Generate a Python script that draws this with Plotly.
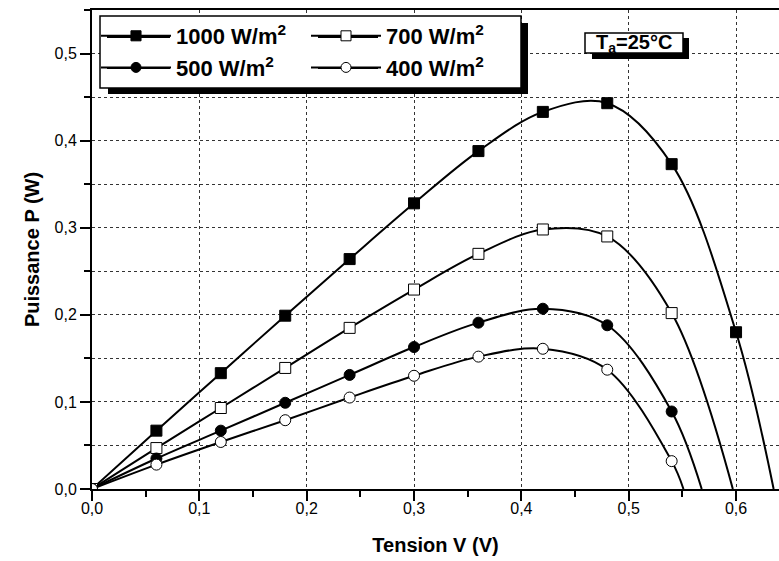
import plotly.graph_objects as go

# ---------------- data ----------------
V_markers = [0.0, 0.06, 0.12, 0.18, 0.24, 0.30, 0.36, 0.42, 0.48, 0.54, 0.60]

P_1000 = [0.0, 0.067, 0.133, 0.199, 0.264, 0.328, 0.388, 0.433, 0.443, 0.373, 0.180]
Voc_1000 = 0.635
P_700 = [0.0, 0.047, 0.093, 0.139, 0.185, 0.229, 0.270, 0.298, 0.290, 0.202]
Voc_700 = 0.597
P_500 = [0.0, 0.035, 0.067, 0.099, 0.131, 0.163, 0.191, 0.207, 0.188, 0.089]
Voc_500 = 0.568
P_400 = [0.0, 0.028, 0.054, 0.079, 0.105, 0.130, 0.152, 0.161, 0.137, 0.032]
Voc_400 = 0.551

series_names = ["1000 W/m<sup>2</sup>", "700 W/m<sup>2</sup>", "500 W/m<sup>2</sup>", "400 W/m<sup>2</sup>"]
x_ticks = [0.0, 0.1, 0.2, 0.3, 0.4, 0.5, 0.6]
y_ticks = [0.0, 0.1, 0.2, 0.3, 0.4, 0.5]

# ---------------- layout geometry ----------------
W, H = 779, 561
ML, MR, MT, MB = 92, 0, 10, 72
PW, PH = W - ML - MR, H - MT - MB


def px(x):
    return (x - ML) / PW


def py(y):
    return 1 - (y - MT) / PH


FONT = "Liberation Sans, Arial, sans-serif"

fig = go.Figure()

specs = [
    (P_1000, Voc_1000, "square", "black", "legend"),
    (P_700, Voc_700, "square", "white", "legend2"),
    (P_500, Voc_500, "circle", "black", "legend"),
    (P_400, Voc_400, "circle", "white", "legend2"),
]

for i, (P, voc, sym, fill, leg) in enumerate(specs):
    xs = V_markers[:len(P)] + [voc]
    ys = P + [0.0]
    sizes = [11] * len(P) + [0]
    fig.add_trace(go.Scatter(
        x=xs, y=ys, mode="lines+markers", name=series_names[i],
        line=dict(color="black", width=2, shape="spline", smoothing=1.0),
        marker=dict(symbol=sym, size=sizes, color=fill, opacity=1,
                    line=dict(color="black", width=1)),
        legend=leg, legendgroup=f"g{i}",
    ))

axis_common = dict(
    showline=True, linecolor="black", linewidth=2,
    ticks="outside", ticklen=10, tickwidth=2, tickcolor="black",
    tickfont=dict(family=FONT, size=16, color="black"),
    tickformat=".1f", zeroline=False,
    showgrid=True, gridcolor="#333333", griddash="dot", gridwidth=1,
)

fig.update_xaxes(
    **axis_common, mirror=True, range=[0, 0.64], tickvals=x_ticks,
    ticklabelstandoff=-6,
    minor=dict(dtick=0.05, tick0=0, ticks="outside", ticklen=6, tickwidth=2,
               tickcolor="black", showgrid=False),
    title=dict(text="<b>Tension V (V)</b>", font=dict(family=FONT, size=20, color="black"), standoff=22),
)
fig.update_yaxes(
    **axis_common, mirror=False, range=[0, 0.55], tickvals=y_ticks,
    minor=dict(dtick=0.05, tick0=0, ticks="outside", ticklen=6, tickwidth=2,
               tickcolor="black", showgrid=True, gridcolor="#333333", griddash="dot", gridwidth=1),
    title=dict(text="<b>Puissance P (W)</b>", font=dict(family=FONT, size=20, color="black"), standoff=10),
)

legend_common = dict(
    bgcolor="rgba(0,0,0,0)", borderwidth=0,
    font=dict(family=FONT, size=22, color="black", weight="bold"),
    xanchor="left", yanchor="top", orientation="v",
    tracegroupgap=0, itemwidth=70,
)

# legend sample lines (longer than plotly's default)
row_y = [37, 68]
col_x = [(107, 170), (318, 378)]
sample_lines = []
for cx0, cx1 in col_x:
    for ry in row_y:
        sample_lines.append(dict(type="line", xref="paper", yref="paper", layer="above",
                                 x0=px(cx0), x1=px(cx1), y0=py(ry), y1=py(ry),
                                 line=dict(color="black", width=2)))

fig.update_layout(
    width=W, height=H,
    margin=dict(l=ML, r=MR, t=MT, b=MB),
    paper_bgcolor="white", plot_bgcolor="white",
    separators=", ",
    legend=dict(**legend_common, x=px(96), y=py(15)),
    legend2=dict(**legend_common, x=px(306), y=py(15)),
    shapes=[
        # legend shadow + box
        dict(type="rect", xref="paper", yref="paper", layer="above",
             x0=px(108), x1=px(528), y0=py(94), y1=py(23),
             fillcolor="black", line=dict(width=0)),
        dict(type="rect", xref="paper", yref="paper", layer="above",
             x0=px(100), x1=px(521), y0=py(88), y1=py(16),
             fillcolor="white", line=dict(color="black", width=1.5)),
        # Ta box shadow + box
        dict(type="rect", xref="paper", yref="paper", layer="above",
             x0=px(592), x1=px(689), y0=py(59), y1=py(38),
             fillcolor="black", line=dict(width=0)),
        dict(type="rect", xref="paper", yref="paper", layer="above",
             x0=px(585), x1=px(683), y0=py(53), y1=py(33),
             fillcolor="white", line=dict(color="black", width=1.5)),
    ] + sample_lines,
    annotations=[
        dict(text="<b>T<sub>a</sub>=25°C</b>", xref="paper", yref="paper",
             x=px(634), y=py(43), xanchor="center", yanchor="middle", showarrow=False,
             font=dict(family=FONT, size=20, color="black")),
    ],
)

fig.write_html("out.html")
